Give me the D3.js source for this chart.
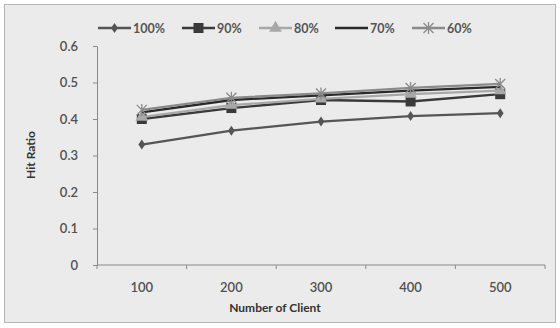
<!DOCTYPE html>
<html><head><meta charset="utf-8">
<script src="https://cdn.jsdelivr.net/npm/d3@7"></script>
<style>body{margin:0;background:#fff}svg{display:block}</style>
</head><body>
<svg id="c" width="560" height="328"></svg>
<script>
const categories = ["100","200","300","400","500"];
const seriesNames = ["100%","90%","80%","70%","60%"];
const s100 = [0.33, 0.368, 0.393, 0.408, 0.416];
const s90  = [0.40, 0.43, 0.452, 0.448, 0.468];
const s80  = [0.405, 0.438, 0.455, 0.468, 0.478];
const s70  = [0.418, 0.452, 0.465, 0.478, 0.488];
const s60  = [0.425, 0.458, 0.47, 0.485, 0.496];
const yTicks = [0,0.1,0.2,0.3,0.4,0.5,0.6];

const series = [
  {name: seriesNames[0], values: s100, color: "#555", marker: "diamond"},
  {name: seriesNames[1], values: s90,  color: "#3a3a3a", marker: "square"},
  {name: seriesNames[2], values: s80,  color: "#a8a8a8", marker: "triangle"},
  {name: seriesNames[3], values: s70,  color: "#2a2a2a", marker: "none"},
  {name: seriesNames[4], values: s60,  color: "#8a8a8a", marker: "star"}
];

const svg = d3.select("#c");
const font = "Lato, 'Open Sans', 'Liberation Sans', sans-serif";

svg.append("rect").attr("x",4.5).attr("y",4.5).attr("width",551).attr("height",318)
  .attr("fill","#ebebeb").attr("stroke","#b5b5b5");

const L=97, R=545, T=46, B=265;
const x = d3.scaleBand().domain(categories).range([L,R]);
const y = d3.scaleLinear().domain([0,0.6]).range([B,T]);

const yAxis = d3.axisLeft(y).tickValues(yTicks).tickSize(4).tickFormat(d=>d===0?"0":d3.format(".1f")(d));
const gy = svg.append("g").attr("transform",`translate(${L},0)`).call(yAxis);
gy.select(".domain").attr("stroke","#8a8a8a");
gy.selectAll(".tick line").attr("stroke","#8a8a8a");
gy.selectAll("text").attr("x",-19).attr("font-size",13).attr("font-family",font).attr("fill","#505050").attr("font-weight","600");

const gx = svg.append("g").attr("transform",`translate(0,${B})`);
gx.append("line").attr("x1",L).attr("x2",R).attr("stroke","#8a8a8a");
const bounds = categories.map(c=>x(c)).concat([R]);
gx.selectAll("line.t").data(bounds).enter().append("line").attr("class","t")
  .attr("x1",d=>d).attr("x2",d=>d).attr("y1",0).attr("y2",4).attr("stroke","#8a8a8a");
gx.selectAll("text.l").data(categories).enter().append("text").attr("class","l")
  .attr("x",d=>x(d)+x.bandwidth()/2).attr("y",27).attr("text-anchor","middle")
  .attr("font-size",13).attr("font-family",font).attr("fill","#505050").attr("font-weight","600").text(d=>d);

svg.append("text").attr("x",275).attr("y",312).attr("text-anchor","middle")
  .attr("font-size",12).attr("font-weight","bold").attr("font-family",font).attr("fill","#333").text("Number of Client");
svg.append("text").attr("transform","translate(35,155) rotate(-90)").attr("text-anchor","middle")
  .attr("font-size",12).attr("font-weight","bold").attr("font-family",font).attr("fill","#333").text("Hit Ratio");

function drawMarker(g, s, cx, cy){
  if(s.marker==="diamond") g.append("path").attr("d",d3.symbol(d3.symbolDiamond,40)()).attr("transform",`translate(${cx},${cy}) scale(1,0.85)`).attr("fill",s.color);
  else if(s.marker==="square") g.append("rect").attr("x",cx-5).attr("y",cy-5).attr("width",10).attr("height",10).attr("fill",s.color);
  else if(s.marker==="triangle") g.append("path").attr("d",d3.symbol(d3.symbolTriangle,70)()).attr("transform",`translate(${cx},${cy})`).attr("fill",s.color);
  else if(s.marker==="star") {
    const r=5;
    const d=`M${cx-r},${cy-r}L${cx+r},${cy+r}M${cx-r},${cy+r}L${cx+r},${cy-r}M${cx},${cy-r-1}L${cx},${cy+r+1}`;
    g.append("path").attr("d",d).attr("stroke",s.color).attr("stroke-width",1.3).attr("fill","none");
  }
}

const line = d3.line().x((d,i)=>x(categories[i])+x.bandwidth()/2).y(d=>y(d));
series.forEach(s=>{
  const g = svg.append("g");
  g.append("path").attr("d",line(s.values)).attr("fill","none").attr("stroke",s.color).attr("stroke-width",2.3);
  s.values.forEach((v,i)=>drawMarker(g,s,x(categories[i])+x.bandwidth()/2,y(v)));
});

const legX = [98,182,259,335,412];
series.forEach((s,i)=>{
  const g = svg.append("g");
  const lx = legX[i], ly = 28;
  g.append("line").attr("x1",lx).attr("x2",lx+33).attr("y1",ly).attr("y2",ly).attr("stroke",s.color).attr("stroke-width",2.3);
  drawMarker(g,s,lx+16.5,ly);
  g.append("text").attr("x",lx+35).attr("y",ly+4.5).attr("font-size",12.5).attr("font-weight","bold")
    .attr("font-family",font).attr("fill","#555").text(s.name);
});
</script>
</body></html>
